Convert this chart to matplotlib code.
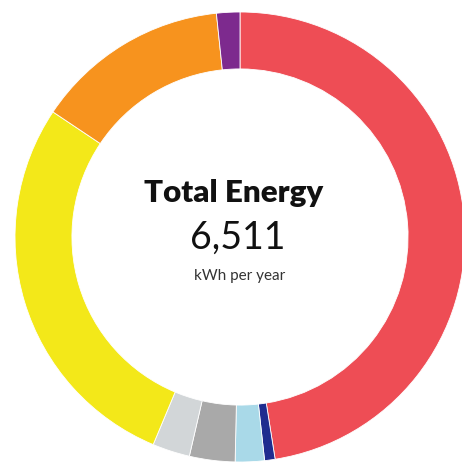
import matplotlib
matplotlib.use("Agg")
import matplotlib.pyplot as plt

# energy breakdown, kWh per year
labels = ["A", "B", "C", "D", "E", "F", "G", "H"]
values = [3093, 49, 136, 213, 175, 1828, 908, 109]
colors = ["#EE4D55", "#1F2C8F", "#A9D9E8", "#A9A9A9", "#D2D6D8",
          "#F3E819", "#F7931E", "#7D2A8E"]
total = 6511

fig = plt.figure(figsize=(4.62, 4.70), dpi=100)
ax = fig.add_axes([0, 0, 1, 1])

ax.pie(values, colors=colors, startangle=90, counterclock=False, radius=1,
       wedgeprops=dict(width=0.253, edgecolor="white", linewidth=0.6))

# ring centre sits at pixel (240, 237), outer radius 225 px
ax.set_xlim(-240 / 225, 222 / 225)
ax.set_ylim(-233 / 225, 237 / 225)
ax.set_aspect("auto")
ax.axis("off")

ax.text(-6 / 225, 44 / 225, "Total Energy", ha="center", va="center",
        fontsize=22.5, fontweight="heavy", family="Lato", color="#111111")
ax.text(-2 / 225, -1 / 225, f"{total:,}", ha="center", va="center",
        fontsize=27, fontweight="normal", family="Lato", color="#111111")
ax.text(0, -39 / 225, "kWh per year", ha="center", va="center",
        fontsize=11, family="Lato", color="#333333")

fig.savefig("out.png", dpi=100)
